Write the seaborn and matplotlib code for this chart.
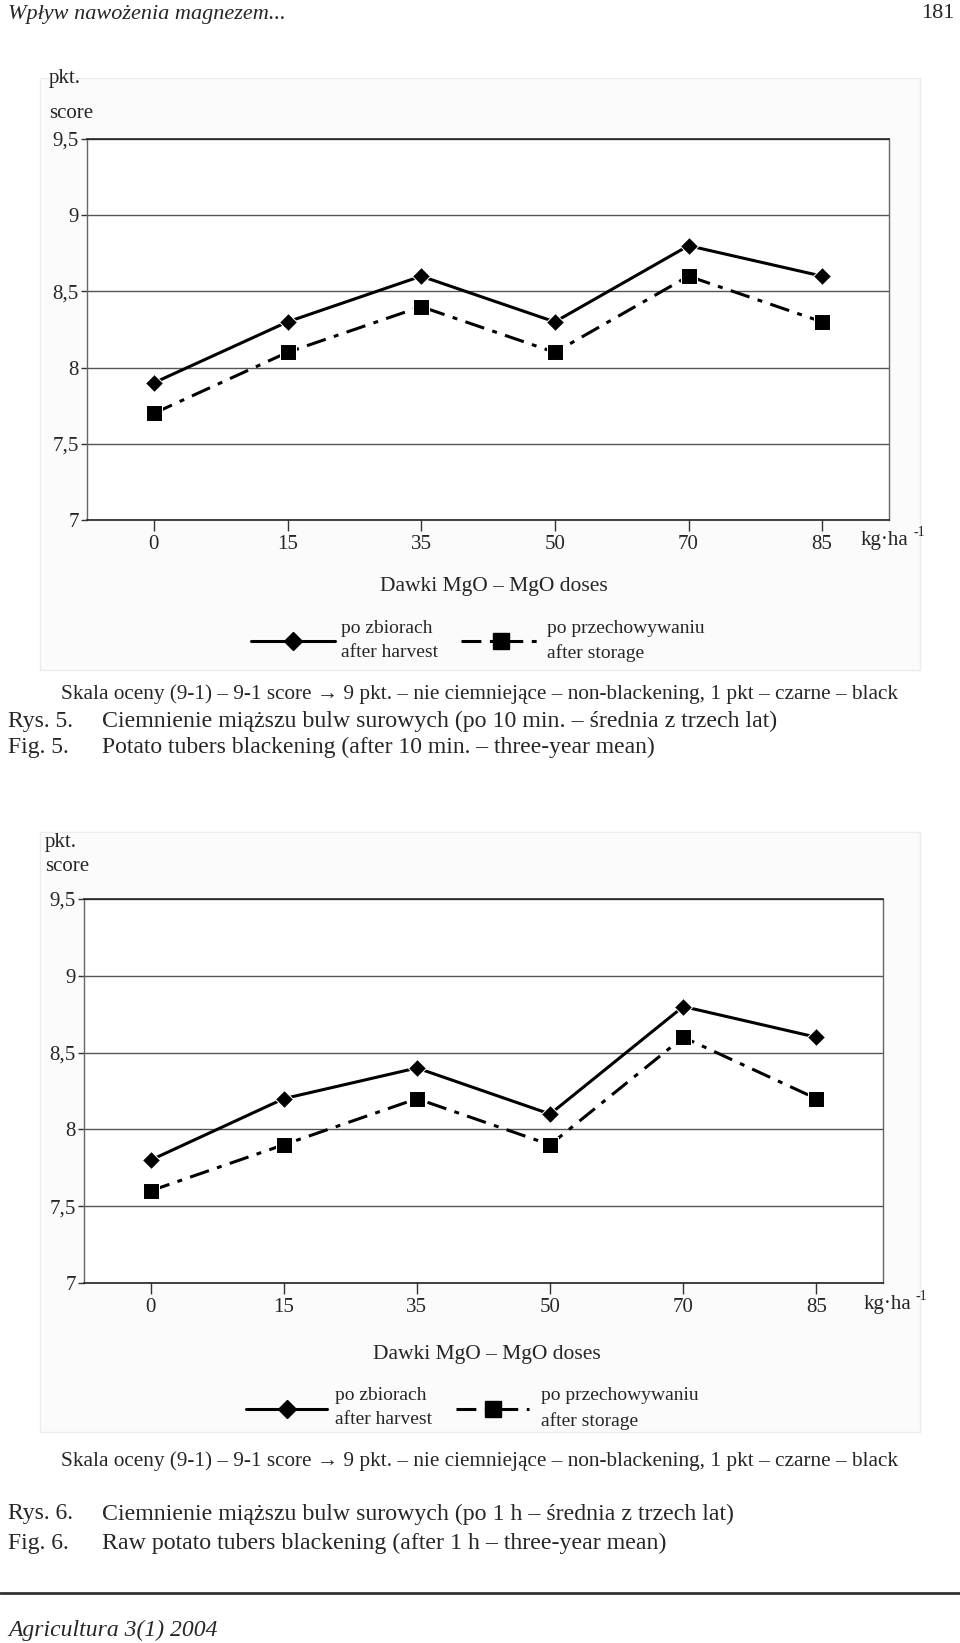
import numpy as np
import pandas as pd
import matplotlib
matplotlib.use("Agg")
import matplotlib.pyplot as plt
import seaborn as sns
from matplotlib.patches import Rectangle
from matplotlib.lines import Line2D

# doses of MgO (kg/ha) - categories on x axis
doses = ["0", "15", "35", "50", "70", "85"]

# Fig. 5 - after 10 min
fig5_harvest = [7.9, 8.3, 8.6, 8.3, 8.8, 8.6]
fig5_storage = [7.7, 8.1, 8.4, 8.1, 8.6, 8.3]

# Fig. 6 - after 1 h
fig6_harvest = [7.8, 8.2, 8.4, 8.1, 8.8, 8.6]
fig6_storage = [7.6, 7.9, 8.2, 7.9, 8.6, 8.2]

y_ticks = [7, 7.5, 8, 8.5, 9, 9.5]
y_tick_labels = ["7", "7,5", "8", "8,5", "9", "9,5"]

W, H = 960, 1643
SERIF = ["Liberation Serif", "DejaVu Serif"]
DASHDOT = (0, (6.5, 2.8, 1.6, 2.8))

sns.set_theme(style="white")
plt.rcParams["font.family"] = SERIF

fig = plt.figure(figsize=(W / 100, H / 100), dpi=100)
fig.patch.set_facecolor("white")


def fx(x):
    return x / W


def fy(y):
    return 1 - y / H


def txt(x, y, s, size=13, ha="left", va="center", **kw):
    fig.text(fx(x), fy(y), s, fontsize=size, ha=ha, va=va, family=SERIF, **kw)


def draw_chart(box, panel, harvest, storage):
    left, top, right, bottom = box
    # light panel behind the chart
    px0, py0, px1, py1 = panel
    fig.patches.append(Rectangle((fx(px0), fy(py1)), fx(px1 - px0), (py1 - py0) / H,
                                 transform=fig.transFigure, facecolor="#fbfbfb",
                                 edgecolor="#ececec", lw=1, zorder=-10))
    ax = fig.add_axes([fx(left), fy(bottom), fx(right - left), (bottom - top) / H])
    ax.set_zorder(2)
    ax.set_facecolor("white")

    df = pd.DataFrame({"dose": doses * 2,
                       "score": harvest + storage,
                       "series": ["harvest"] * len(doses) + ["storage"] * len(doses)})
    sns.lineplot(data=df[df.series == "harvest"], x="dose", y="score", sort=False,
                 color="black", lw=2.2, marker="D", markersize=9.5, ax=ax)
    sns.lineplot(data=df[df.series == "storage"], x="dose", y="score", sort=False,
                 color="black", lw=2.2, marker="s", markersize=11.5,
                 linestyle=DASHDOT, ax=ax)

    ax.set_xlim(-0.5, len(doses) - 0.5)
    ax.set_ylim(7, 9.5)
    ax.set_yticks(y_ticks)
    ax.set_yticklabels(y_tick_labels)
    ax.yaxis.grid(True, color="#555555", lw=1)
    ax.set_axisbelow(True)
    ax.set_xlabel("")
    ax.set_ylabel("")
    for s in ["left", "right"]:
        ax.spines[s].set_color("#666666")
        ax.spines[s].set_linewidth(1)
    for s in ["top", "bottom"]:
        ax.spines[s].set_color("#222222")
        ax.spines[s].set_linewidth(1.2)
    ax.tick_params(axis="x", direction="out", length=8, width=1, color="#333333",
                   bottom=True, pad=3, labelsize=15)
    ax.tick_params(axis="y", direction="out", length=4, width=1, color="#333333",
                   left=True, pad=2, labelsize=15)
    for t in ax.get_xticklabels() + ax.get_yticklabels():
        t.set_family(SERIF)
    return ax


def legend_keys(y, x_solid, x_dash):
    fig.lines.append(Line2D([fx(x_solid[0]), fx(x_solid[1])], [fy(y), fy(y)],
                            transform=fig.transFigure, color="black", lw=2.2, zorder=5))
    fig.lines.append(Line2D([fx(sum(x_solid) / 2)], [fy(y)], transform=fig.transFigure,
                            color="black", marker="D", markersize=9.5, zorder=6))
    fig.lines.append(Line2D([fx(x_dash[0]), fx(x_dash[1])], [fy(y), fy(y)],
                            transform=fig.transFigure, color="black", lw=2.2,
                            linestyle=DASHDOT, zorder=5))
    fig.lines.append(Line2D([fx(sum(x_dash) / 2)], [fy(y)], transform=fig.transFigure,
                            color="black", marker="s", markersize=11.5, zorder=6))


SKALA = ("Skala oceny (9-1) – 9-1 score → 9 pkt. – nie ciemniejące – non-blackening, "
         "1 pkt – czarne – black")

# header
txt(8, 14, "Wpływ nawożenia magnezem...", size=16, style="italic")
txt(954, 14, "181", size=16, ha="right")

# ---- Fig. 5 ----
draw_chart((87, 139, 889, 520), (40, 78, 920, 670), fig5_harvest, fig5_storage)
txt(49, 79, "pkt.", size=15)
txt(49, 113, "score", size=15)
txt(861, 540, "kg·ha", size=15)
txt(913, 532, "-1", size=10)
txt(494, 587, "Dawki MgO – MgO doses", size=15.5, ha="center")

legend_keys(641, (251, 335), (461, 540))
txt(341, 629, "po zbiorach", size=14)
txt(341, 652, "after harvest", size=14)
txt(547, 629, "po przechowywaniu", size=14)
txt(547, 653, "after storage", size=14)

txt(61, 694, SKALA, size=15.3)
txt(8, 721, "Rys. 5.", size=17)
txt(8, 747, "Fig. 5.", size=17)
txt(102, 721, "Ciemnienie miąższu bulw surowych (po 10 min. – średnia z trzech lat)", size=17.2)
txt(102, 747, "Potato tubers blackening (after 10 min. – three-year mean)", size=17)

# ---- Fig. 6 ----
draw_chart((84, 899, 883, 1283), (40, 832, 920, 1432), fig6_harvest, fig6_storage)
txt(45, 842, "pkt.", size=15)
txt(45, 867, "score", size=15)
txt(864, 1305, "kg·ha", size=15)
txt(916, 1297, "-1", size=10)
txt(487, 1354, "Dawki MgO – MgO doses", size=15.5, ha="center")

legend_keys(1409, (246, 327), (456, 529))
txt(335, 1396, "po zbiorach", size=14)
txt(335, 1420, "after harvest", size=14)
txt(541, 1396, "po przechowywaniu", size=14)
txt(541, 1421, "after storage", size=14)

txt(61, 1461, SKALA, size=15.3)
txt(8, 1514, "Rys. 6.", size=17)
txt(8, 1543, "Fig. 6.", size=17)
txt(102, 1514, "Ciemnienie miąższu bulw surowych (po 1 h – średnia z trzech lat)", size=17.2)
txt(102, 1543, "Raw potato tubers blackening (after 1 h – three-year mean)", size=17.2)

# footer
fig.lines.append(Line2D([0, 1], [fy(1593), fy(1593)], transform=fig.transFigure,
                        color="#333333", lw=2))
txt(8, 1630, "Agricultura 3(1) 2004", size=17, style="italic")

fig.savefig("out.png", dpi=100, facecolor="white")
